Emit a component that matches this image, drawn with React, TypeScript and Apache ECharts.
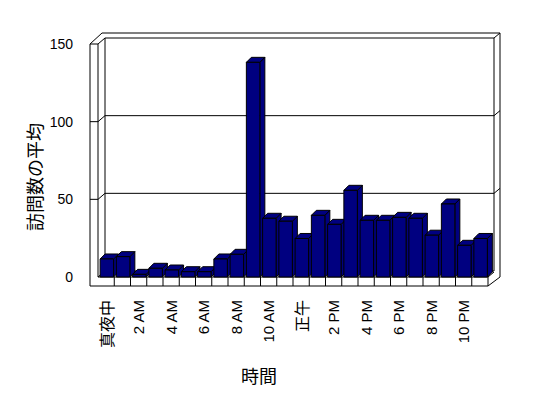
import React, { useEffect, useRef } from "react";
import * as echarts from "echarts";

const categories = [
  "真夜中", "1 AM", "2 AM", "3 AM", "4 AM", "5 AM", "6 AM", "7 AM", "8 AM", "9 AM", "10 AM", "11 AM",
  "正午", "1 PM", "2 PM", "3 PM", "4 PM", "5 PM", "6 PM", "7 PM", "8 PM", "9 PM", "10 PM", "11 PM",
];
const visits = [
  11.6, 13.1, 1.7, 5.6, 4.5, 3.4, 3.4, 11.6, 14.6, 138.2, 37.8, 35.9,
  24.8, 39.7, 33.9, 55.8, 36.5, 36.5, 38.4, 37.8, 26.9, 47, 20.4, 24.8,
];
const gridValues = [50, 100, 150];
const xAxisTitle = "時間";
const yAxisTitle = "訪問数の平均";

const FONT = "'Liberation Sans', 'Noto Sans CJK JP', sans-serif";
const CJK = "'Noto Sans CJK JP', sans-serif";
const BAR = "#000080";

export default function App() {
  const ref = useRef<HTMLDivElement>(null);
  useEffect(() => {
    if (!ref.current) return;
    const chart = echarts.init(ref.current, null, { renderer: "svg" });
    const line = (pts: number[][]) => ({
      type: "polyline",
      shape: { points: pts },
      style: { stroke: "#000", lineWidth: 1, fill: null },
    });
    chart.setOption({
      animation: false,
      backgroundColor: "#fff",
      grid: { left: 98, right: 60, top: 44, bottom: 121 },
      xAxis: {
        type: "category",
        data: categories,
        axisLine: { show: false },
        axisTick: { show: false },
        axisLabel: {
          interval: 1,
          rotate: 90,
          margin: 23,
          fontSize: 15,
          color: "#000",
          fontFamily: FONT,
          formatter: (v: string) => (/[^\x00-\x7F]/.test(v) ? `{cjk|${v}}` : v),
          rich: { cjk: { fontSize: 16, fontFamily: CJK, color: "#000" } },
        },
      },
      yAxis: {
        type: "value",
        min: 0,
        max: 150,
        interval: 50,
        axisLine: { show: false },
        axisTick: { show: false },
        splitLine: { show: false },
        axisLabel: { margin: 25, fontSize: 14, color: "#000", fontFamily: FONT },
      },
      graphic: [
        {
          type: "text",
          x: 34,
          y: 177,
          rotation: Math.PI / 2,
          style: { text: yAxisTitle, font: `18px ${CJK}`, fill: "#000", align: "center", verticalAlign: "middle" },
        },
        {
          type: "text",
          x: 259,
          y: 375,
          style: { text: xAxisTitle, font: `18px ${CJK}`, fill: "#000", align: "center", verticalAlign: "middle" },
        },
      ],
      series: [
        {
          type: "custom",
          z: 1,
          silent: true,
          data: [[0, 0]],
          renderItem: (params: any, api: any) => {
            const cs = params.coordSys;
            const L = cs.x, R = cs.x + cs.width, T = cs.y, B = cs.y + cs.height;
            const slot = api.size([1, 0])[0];
            const children: any[] = [];
            children.push({
              type: "rect",
              shape: { x: L + 7, y: T - 6, width: R - L - 1, height: B - T },
              style: { fill: "#fff", stroke: "#000", lineWidth: 1 },
            });
            gridValues.forEach((v) => {
              const yv = api.coord([0, v])[1];
              if (v < 150) children.push(line([[L + 7, yv - 6], [R + 6, yv - 6]]));
              children.push(line([[L - 8, yv], [L, yv], [L + 7, yv - 6]]));
              children.push(line([[R + 6, yv - 6], [R + 12, yv - 11]]));
            });
            children.push(line([[L - 8, T], [L - 8, B + 9]]));
            children.push(line([[L, T], [L, B]]));
            children.push(line([[L - 8, T], [L + 4, T - 11], [R + 12, T - 11], [R + 12, B], [R, B + 9]]));
            children.push(line([[L, B], [L + 7, B - 6]]));
            children.push(line([[R, B], [R + 6, B - 5]]));
            children.push(line([[L, B], [R, B], [R, B + 9], [L - 8, B + 9]]));
            for (let k = 1; k < categories.length; k++) {
              const x = L + k * slot;
              children.push(line([[x, B], [x, B + 9]]));
            }
            return { type: "group", children };
          },
        },
        {
          type: "custom",
          z: 2,
          data: visits.map((v, i) => [i, v]),
          renderItem: (params: any, api: any) => {
            const idx = api.value(0);
            const v = api.value(1);
            const top = api.coord([idx, v]);
            const base = api.coord([idx, 0]);
            const slot = api.size([1, 0])[0];
            const cx = top[0];
            const x0 = cx - slot * 0.37;
            const x1 = cx + slot * 0.46;
            const yt = top[1];
            const yb = base[1];
            const dx = 5, dy = -5;
            const st = { fill: BAR, stroke: "#000", lineWidth: 1 };
            return {
              type: "group",
              children: [
                { type: "polygon", shape: { points: [[x1, yt], [x1 + dx, yt + dy], [x1 + dx, yb + dy], [x1, yb]] }, style: st },
                { type: "polygon", shape: { points: [[x0, yt], [x1, yt], [x1 + dx, yt + dy], [x0 + dx, yt + dy]] }, style: st },
                { type: "rect", shape: { x: x0, y: yt, width: x1 - x0, height: yb - yt }, style: st },
              ],
            };
          },
        },
      ],
    });
    return () => chart.dispose();
  }, []);
  return <div ref={ref} style={{ position: "fixed", left: 0, top: 0, width: 548, height: 398 }} />;
}
